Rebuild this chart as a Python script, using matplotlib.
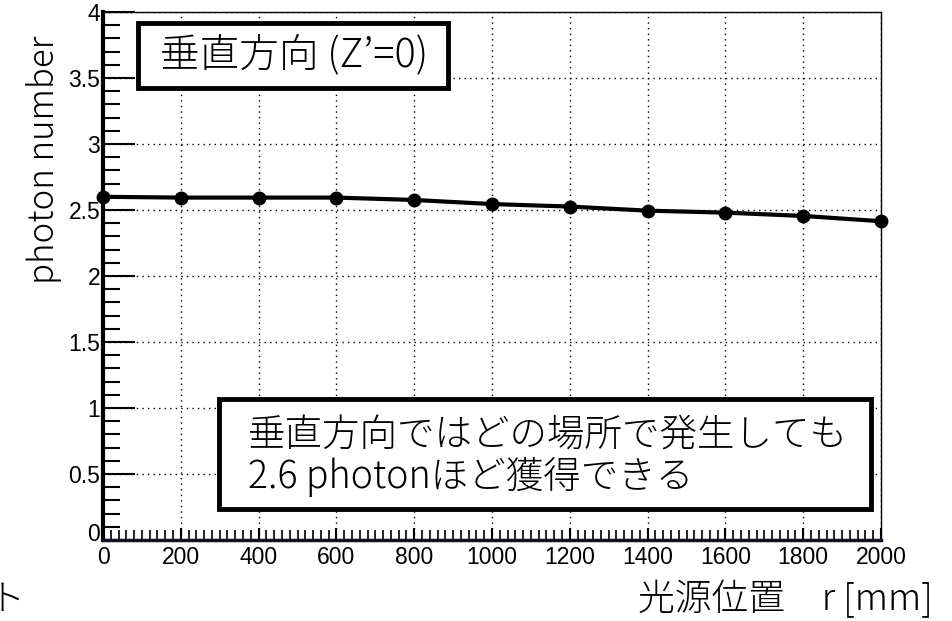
import numpy as np
import matplotlib.pyplot as plt
import matplotlib.transforms as mtransforms
from matplotlib.patches import Rectangle
from matplotlib.ticker import MultipleLocator

# 光源位置 r [mm] と光子数
r_mm = [0, 200, 400, 600, 800, 1000, 1200, 1400, 1600, 1800, 2000]
photons = [2.60, 2.594, 2.594, 2.594, 2.576, 2.545, 2.526, 2.495, 2.48, 2.455, 2.415]

title_box = "垂直方向 (Z’=0)"
note_box = "垂直方向ではどの場所で発生しても\n2.6 photonほど獲得できる"
xlabel = "光源位置　r [mm]"
ylabel = "photon number"

jp = ['Noto Sans CJK JP', 'DejaVu Sans']
plt.rcParams['font.family'] = jp

W, H = 952, 621
fig = plt.figure(figsize=(W / 100, H / 100), dpi=100)
ax = fig.add_axes([103 / W, 1 - 540 / H, 778 / W, 528 / H])

ax.plot(r_mm, photons, color='black', linewidth=3, marker='o',
        markersize=9, zorder=5, clip_on=False)

ax.set_xlim(0, 2000)
ax.set_ylim(0, 4)
ax.xaxis.set_major_locator(MultipleLocator(200))
ax.xaxis.set_minor_locator(MultipleLocator(20))
ax.yaxis.set_minor_locator(MultipleLocator(0.1))
ax.set_yticks(np.arange(0, 4.01, 0.5))
ax.set_yticklabels(['0', '0.5', '1', '1.5', '2', '2.5', '3', '3.5', '4'])

ax.grid(True, which='major', color='black', linestyle=(0, (1, 3)), linewidth=1)
ax.set_axisbelow(True)

ax.tick_params(axis='y', which='major', direction='in', length=23, width=1.5,
               right=False, labelsize=16.5, pad=2)
ax.tick_params(axis='y', which='minor', direction='in', length=12, width=1.5,
               right=False)
ax.tick_params(axis='x', which='major', direction='in', length=9, width=1.5,
               top=False, labelsize=16.5, pad=4)
ax.tick_params(axis='x', which='minor', direction='in', length=7, width=1.2,
               top=False)
for lab in ax.get_xticklabels() + ax.get_yticklabels():
    lab.set_family('Liberation Sans')

# 原点の "0" は少し上にずらす（ROOT 風）
y0 = ax.get_yticklabels()[0]
y0.set_transform(y0.get_transform() +
                 mtransforms.ScaledTranslation(0, 8 / 100, fig.dpi_scale_trans))

ax.spines['left'].set_linewidth(3)
ax.spines['bottom'].set_linewidth(2.5)
ax.spines['bottom'].set_color('#111122')
ax.spines['top'].set_linewidth(1)
ax.spines['right'].set_linewidth(1)

# ROOT 風に軸タイトルを上端寄せ
ax.set_ylabel(ylabel, fontsize=25, fontweight='light')
ax.yaxis.set_label_coords(-0.053, 0.72)
fig.text(933 / W, 1 - 600 / H, xlabel, fontsize=26.5, fontweight='light',
         ha='right', va='center')
fig.text(-0.012, 1 - 600 / H, "ト", fontsize=26, fontweight='light',
         ha='left', va='center')

# 注釈ボックス
ax.add_patch(Rectangle((0.045, 0.856), 0.398, 0.123, transform=ax.transAxes,
                       facecolor='white', edgecolor='black', linewidth=3.5,
                       zorder=6))
ax.text(0.0733, 0.918, title_box, transform=ax.transAxes, fontsize=28.5,
        fontweight='light', ha='left', va='center', zorder=7)

ax.add_patch(Rectangle((0.149, 0.059), 0.838, 0.208, transform=ax.transAxes,
                       facecolor='white', edgecolor='black', linewidth=3.5,
                       zorder=6))
ax.text(0.1864, 0.159, note_box, transform=ax.transAxes, fontsize=27,
        fontweight='light', ha='left', va='center', linespacing=1.05,
        zorder=7)

fig.savefig('out.png', dpi=100)
